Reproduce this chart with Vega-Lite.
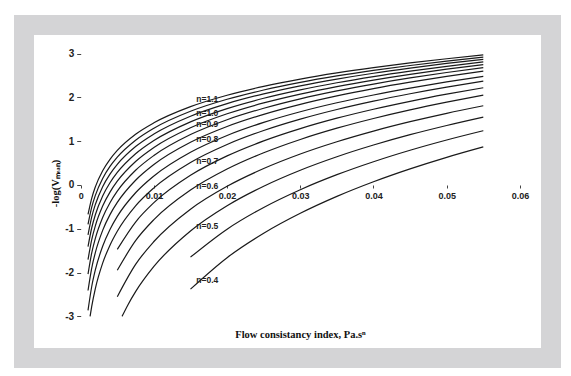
{
  "$schema": "https://vega.github.io/schema/vega-lite/v6.json",
  "width": 527,
  "height": 333,
  "autosize": {"type": "none"},
  "padding": {"left": 24, "top": 25, "right": 20, "bottom": 18},
  "background": "white",
  "config": {
    "view": {"stroke": "#d4d4d6", "strokeWidth": 20, "fill": "white"},
    "axis": {"grid": false, "domain": false, "labelFont": "Liberation Sans", "labelFontWeight": "bold", "labelColor": "#222", "tickColor": "#444", "titleFont": "Liberation Serif", "titleFontWeight": "bold", "titleColor": "#111", "titleFontSize": 10.5}
  },
  "datasets": {
    "curves": [
      {"n":"1.1","x":0.001,"y":-0.673},{"n":"1.1","x":0.0015,"y":-0.305},{"n":"1.1","x":0.002,"y":-0.043},{"n":"1.1","x":0.003,"y":0.326},{"n":"1.1","x":0.004,"y":0.587},{"n":"1.1","x":0.005,"y":0.79},{"n":"1.1","x":0.0075,"y":1.159},{"n":"1.1","x":0.01,"y":1.42},{"n":"1.1","x":0.015,"y":1.789},{"n":"1.1","x":0.02,"y":2.05},{"n":"1.1","x":0.025,"y":2.253},{"n":"1.1","x":0.03,"y":2.419},{"n":"1.1","x":0.035,"y":2.559},{"n":"1.1","x":0.04,"y":2.68},{"n":"1.1","x":0.045,"y":2.788},{"n":"1.1","x":0.05,"y":2.883},{"n":"1.1","x":0.055,"y":2.97},
      {"n":"1.05","x":0.001,"y":-0.897},{"n":"1.05","x":0.0015,"y":-0.51},{"n":"1.05","x":0.002,"y":-0.236},{"n":"1.05","x":0.003,"y":0.15},{"n":"1.05","x":0.004,"y":0.424},{"n":"1.05","x":0.005,"y":0.636},{"n":"1.05","x":0.0075,"y":1.022},{"n":"1.05","x":0.01,"y":1.296},{"n":"1.05","x":0.015,"y":1.683},{"n":"1.05","x":0.02,"y":1.957},{"n":"1.05","x":0.025,"y":2.169},{"n":"1.05","x":0.03,"y":2.343},{"n":"1.05","x":0.035,"y":2.49},{"n":"1.05","x":0.04,"y":2.617},{"n":"1.05","x":0.045,"y":2.729},{"n":"1.05","x":0.05,"y":2.829},{"n":"1.05","x":0.055,"y":2.92},
      {"n":"1.0","x":0.001,"y":-1.137},{"n":"1.0","x":0.0015,"y":-0.732},{"n":"1.0","x":0.002,"y":-0.444},{"n":"1.0","x":0.003,"y":-0.039},{"n":"1.0","x":0.004,"y":0.249},{"n":"1.0","x":0.005,"y":0.472},{"n":"1.0","x":0.0075,"y":0.878},{"n":"1.0","x":0.01,"y":1.165},{"n":"1.0","x":0.015,"y":1.571},{"n":"1.0","x":0.02,"y":1.858},{"n":"1.0","x":0.025,"y":2.082},{"n":"1.0","x":0.03,"y":2.264},{"n":"1.0","x":0.035,"y":2.418},{"n":"1.0","x":0.04,"y":2.552},{"n":"1.0","x":0.045,"y":2.669},{"n":"1.0","x":0.05,"y":2.775},{"n":"1.0","x":0.055,"y":2.87},
      {"n":"0.95","x":0.001,"y":-1.408},{"n":"0.95","x":0.0015,"y":-0.982},{"n":"0.95","x":0.002,"y":-0.679},{"n":"0.95","x":0.003,"y":-0.252},{"n":"0.95","x":0.004,"y":0.051},{"n":"0.95","x":0.005,"y":0.286},{"n":"0.95","x":0.0075,"y":0.713},{"n":"0.95","x":0.01,"y":1.016},{"n":"0.95","x":0.015,"y":1.442},{"n":"0.95","x":0.02,"y":1.745},{"n":"0.95","x":0.025,"y":1.98},{"n":"0.95","x":0.03,"y":2.172},{"n":"0.95","x":0.035,"y":2.334},{"n":"0.95","x":0.04,"y":2.475},{"n":"0.95","x":0.045,"y":2.599},{"n":"0.95","x":0.05,"y":2.71},{"n":"0.95","x":0.055,"y":2.81},
      {"n":"0.9","x":0.001,"y":-1.703},{"n":"0.9","x":0.0015,"y":-1.252},{"n":"0.9","x":0.002,"y":-0.932},{"n":"0.9","x":0.003,"y":-0.482},{"n":"0.9","x":0.004,"y":-0.162},{"n":"0.9","x":0.005,"y":0.086},{"n":"0.9","x":0.0075,"y":0.536},{"n":"0.9","x":0.01,"y":0.856},{"n":"0.9","x":0.015,"y":1.306},{"n":"0.9","x":0.02,"y":1.626},{"n":"0.9","x":0.025,"y":1.874},{"n":"0.9","x":0.03,"y":2.076},{"n":"0.9","x":0.035,"y":2.248},{"n":"0.9","x":0.04,"y":2.396},{"n":"0.9","x":0.045,"y":2.527},{"n":"0.9","x":0.05,"y":2.644},{"n":"0.9","x":0.055,"y":2.75},
      {"n":"0.85","x":0.001,"y":-2.035},{"n":"0.85","x":0.0015,"y":-1.558},{"n":"0.85","x":0.002,"y":-1.219},{"n":"0.85","x":0.003,"y":-0.742},{"n":"0.85","x":0.004,"y":-0.404},{"n":"0.85","x":0.005,"y":-0.141},{"n":"0.85","x":0.0075,"y":0.336},{"n":"0.85","x":0.01,"y":0.674},{"n":"0.85","x":0.015,"y":1.151},{"n":"0.85","x":0.02,"y":1.49},{"n":"0.85","x":0.025,"y":1.752},{"n":"0.85","x":0.03,"y":1.967},{"n":"0.85","x":0.035,"y":2.148},{"n":"0.85","x":0.04,"y":2.305},{"n":"0.85","x":0.045,"y":2.444},{"n":"0.85","x":0.05,"y":2.568},{"n":"0.85","x":0.055,"y":2.68},
      {"n":"0.8","x":0.001,"y":-2.409},{"n":"0.8","x":0.0015,"y":-1.902},{"n":"0.8","x":0.002,"y":-1.543},{"n":"0.8","x":0.003,"y":-1.036},{"n":"0.8","x":0.004,"y":-0.676},{"n":"0.8","x":0.005,"y":-0.397},{"n":"0.8","x":0.0075,"y":0.109},{"n":"0.8","x":0.01,"y":0.469},{"n":"0.8","x":0.015,"y":0.976},{"n":"0.8","x":0.02,"y":1.336},{"n":"0.8","x":0.025,"y":1.614},{"n":"0.8","x":0.03,"y":1.842},{"n":"0.8","x":0.035,"y":2.035},{"n":"0.8","x":0.04,"y":2.202},{"n":"0.8","x":0.045,"y":2.349},{"n":"0.8","x":0.05,"y":2.481},{"n":"0.8","x":0.055,"y":2.6},
      {"n":"0.75","x":0.001,"y":-2.863},{"n":"0.75","x":0.0015,"y":-2.323},{"n":"0.75","x":0.002,"y":-1.939},{"n":"0.75","x":0.003,"y":-1.398},{"n":"0.75","x":0.004,"y":-1.015},{"n":"0.75","x":0.005,"y":-0.717},{"n":"0.75","x":0.0075,"y":-0.177},{"n":"0.75","x":0.01,"y":0.207},{"n":"0.75","x":0.015,"y":0.748},{"n":"0.75","x":0.02,"y":1.131},{"n":"0.75","x":0.025,"y":1.429},{"n":"0.75","x":0.03,"y":1.672},{"n":"0.75","x":0.035,"y":1.877},{"n":"0.75","x":0.04,"y":2.055},{"n":"0.75","x":0.045,"y":2.212},{"n":"0.75","x":0.05,"y":2.353},{"n":"0.75","x":0.055,"y":2.48},
      {"n":"0.7","x":0.00128,"y":-3},{"n":"0.7","x":0.0015,"y":-2.776},{"n":"0.7","x":0.002,"y":-2.365},{"n":"0.7","x":0.003,"y":-1.785},{"n":"0.7","x":0.004,"y":-1.374},{"n":"0.7","x":0.005,"y":-1.056},{"n":"0.7","x":0.0075,"y":-0.476},{"n":"0.7","x":0.01,"y":-0.065},{"n":"0.7","x":0.015,"y":0.514},{"n":"0.7","x":0.02,"y":0.925},{"n":"0.7","x":0.025,"y":1.244},{"n":"0.7","x":0.03,"y":1.504},{"n":"0.7","x":0.035,"y":1.724},{"n":"0.7","x":0.04,"y":1.915},{"n":"0.7","x":0.045,"y":2.083},{"n":"0.7","x":0.05,"y":2.234},{"n":"0.7","x":0.055,"y":2.37},
      {"n":"0.65","x":0.005,"y":-1.469},{"n":"0.65","x":0.0075,"y":-0.845},{"n":"0.65","x":0.01,"y":-0.403},{"n":"0.65","x":0.015,"y":0.221},{"n":"0.65","x":0.02,"y":0.664},{"n":"0.65","x":0.025,"y":1.007},{"n":"0.65","x":0.03,"y":1.287},{"n":"0.65","x":0.035,"y":1.525},{"n":"0.65","x":0.04,"y":1.73},{"n":"0.65","x":0.045,"y":1.911},{"n":"0.65","x":0.05,"y":2.073},{"n":"0.65","x":0.055,"y":2.22},
      {"n":"0.6","x":0.005,"y":-1.947},{"n":"0.6","x":0.0075,"y":-1.271},{"n":"0.6","x":0.01,"y":-0.791},{"n":"0.6","x":0.015,"y":-0.116},{"n":"0.6","x":0.02,"y":0.364},{"n":"0.6","x":0.025,"y":0.736},{"n":"0.6","x":0.03,"y":1.04},{"n":"0.6","x":0.035,"y":1.297},{"n":"0.6","x":0.04,"y":1.519},{"n":"0.6","x":0.045,"y":1.716},{"n":"0.6","x":0.05,"y":1.891},{"n":"0.6","x":0.055,"y":2.05},
      {"n":"0.55","x":0.005,"y":-2.55},{"n":"0.55","x":0.0075,"y":-1.813},{"n":"0.55","x":0.01,"y":-1.29},{"n":"0.55","x":0.015,"y":-0.552},{"n":"0.55","x":0.02,"y":-0.029},{"n":"0.55","x":0.025,"y":0.376},{"n":"0.55","x":0.03,"y":0.708},{"n":"0.55","x":0.035,"y":0.988},{"n":"0.55","x":0.04,"y":1.231},{"n":"0.55","x":0.045,"y":1.445},{"n":"0.55","x":0.05,"y":1.637},{"n":"0.55","x":0.055,"y":1.81},
      {"n":"0.5","x":0.00565,"y":-3},{"n":"0.5","x":0.0065,"y":-2.721},{"n":"0.5","x":0.0075,"y":-2.435},{"n":"0.5","x":0.01,"y":-1.86},{"n":"0.5","x":0.015,"y":-1.049},{"n":"0.5","x":0.02,"y":-0.473},{"n":"0.5","x":0.025,"y":-0.027},{"n":"0.5","x":0.03,"y":0.338},{"n":"0.5","x":0.035,"y":0.646},{"n":"0.5","x":0.04,"y":0.913},{"n":"0.5","x":0.045,"y":1.149},{"n":"0.5","x":0.05,"y":1.359},{"n":"0.5","x":0.055,"y":1.55},
      {"n":"0.45","x":0.015,"y":-1.647},{"n":"0.45","x":0.02,"y":-1.008},{"n":"0.45","x":0.025,"y":-0.512},{"n":"0.45","x":0.03,"y":-0.107},{"n":"0.45","x":0.035,"y":0.236},{"n":"0.45","x":0.04,"y":0.532},{"n":"0.45","x":0.045,"y":0.794},{"n":"0.45","x":0.05,"y":1.028},{"n":"0.45","x":0.055,"y":1.24},
      {"n":"0.4","x":0.015,"y":-2.378},{"n":"0.4","x":0.02,"y":-1.659},{"n":"0.4","x":0.025,"y":-1.101},{"n":"0.4","x":0.03,"y":-0.646},{"n":"0.4","x":0.035,"y":-0.26},{"n":"0.4","x":0.04,"y":0.074},{"n":"0.4","x":0.045,"y":0.368},{"n":"0.4","x":0.05,"y":0.632},{"n":"0.4","x":0.055,"y":0.87}
    ],
    "labels": [
      {"label":"n=1.1","x":0.0158,"y":1.96},
      {"label":"n=1.0","x":0.0158,"y":1.64},
      {"label":"n=0.9","x":0.0158,"y":1.39},
      {"label":"n=0.8","x":0.0158,"y":1.05},
      {"label":"n=0.7","x":0.0158,"y":0.555},
      {"label":"n=0.6","x":0.0158,"y":-0.02},
      {"label":"n=0.5","x":0.0158,"y":-0.94},
      {"label":"n=0.4","x":0.0158,"y":-2.17}
    ]
  },
  "layer": [
    {
      "data": {"name": "curves"},
      "mark": {"type": "line", "color": "#1a1a1a", "strokeWidth": 1.2, "interpolate": "monotone"},
      "encoding": {
        "x": {"field": "x", "type": "quantitative",
              "scale": {"domain": [-0.007746, 0.06425], "nice": false, "zero": false},
              "axis": {"orient": "bottom", "offset": -173, "values": [0, 0.01, 0.02, 0.03, 0.04, 0.05, 0.06],
                       "labelExpr": "toString(datum.value)", "labelFontSize": 9, "tickSize": 3, "labelPadding": 3,
                       "title": "Flow consistancy index, Pa.sⁿ", "titleX": 276, "titleY": 149, "titleBaseline": "middle"}},
        "y": {"field": "y", "type": "quantitative",
              "scale": {"domain": [-3.95, 3.653], "nice": false, "zero": false},
              "axis": {"orient": "left", "offset": -56.7, "values": [-3, -2, -1, 0, 1, 2, 3],
                       "labelExpr": "toString(datum.value)", "labelFontSize": 10, "tickSize": 4, "labelPadding": 3,
                       "title": "-log(Vₘₑₐₙ)", "titleX": -24.7, "titleY": 158, "titleAngle": -90, "titleBaseline": "middle"}},
        "detail": {"field": "n", "type": "nominal"}
      }
    },
    {
      "mark": {"type": "rule", "color": "#444", "strokeWidth": 1},
      "encoding": {
        "x": {"datum": 0, "type": "quantitative"},
        "y": {"datum": -3, "type": "quantitative"},
        "y2": {"datum": 3}
      }
    },
    {
      "mark": {"type": "rule", "color": "#555", "strokeWidth": 1},
      "encoding": {
        "y": {"datum": 0, "type": "quantitative"},
        "x": {"datum": 0, "type": "quantitative"},
        "x2": {"datum": 0.06}
      }
    },
    {
      "data": {"name": "labels"},
      "mark": {"type": "text", "align": "left", "baseline": "middle", "font": "Liberation Sans", "fontWeight": "bold", "fontSize": 8.5, "color": "#222"},
      "encoding": {
        "x": {"field": "x", "type": "quantitative"},
        "y": {"field": "y", "type": "quantitative"},
        "text": {"field": "label"}
      }
    }
  ]
}
